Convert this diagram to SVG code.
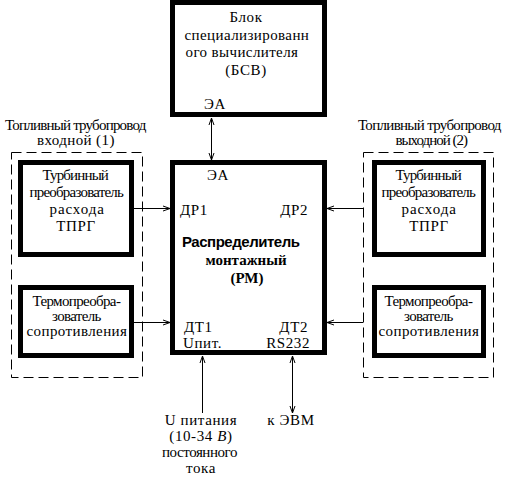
<svg xmlns="http://www.w3.org/2000/svg" width="505" height="483" viewBox="0 0 505 483">
<style>
.box{fill:#fff;stroke:#000;stroke-width:5}
.dash{fill:none;stroke:#000;stroke-width:1;stroke-dasharray:10 5}
.t{font-family:'Liberation Serif','Times New Roman',serif;font-size:15px;fill:#000;letter-spacing:0.6px}
.c{text-anchor:middle}
.e{text-anchor:end}
.b{font-weight:bold;letter-spacing:0}
.sans{font-family:'Liberation Sans',Arial,sans-serif}
.ln{stroke:#000;stroke-width:1;fill:none}
</style>
<defs>
<marker id="ah" viewBox="0 0 8 8" refX="8" refY="4" markerWidth="8" markerHeight="8" orient="auto-start-reverse" markerUnits="userSpaceOnUse">
<path d="M1,1.5 L8,4 L1,6.5" fill="none" stroke="#000" stroke-width="1"/>
</marker>
</defs>
<rect width="505" height="483" fill="#fff"/>
<g id="pipe-in">
<rect class="dash" x="11.5" y="152.5" width="131" height="225"/>
<text class="t c" x="76" y="130" textLength="142" lengthAdjust="spacing">Топливный трубопровод</text>
<text class="t c" x="76" y="145" textLength="78" lengthAdjust="spacing">входной (1)</text>
</g>
<g id="pipe-out">
<rect class="dash" x="363.5" y="152.5" width="130" height="225"/>
<text class="t c" x="430" y="130" textLength="144" lengthAdjust="spacing">Топливный трубопровод</text>
<text class="t c" x="432" y="145" textLength="73" lengthAdjust="spacing">выходной (2)</text>
</g>
<g id="bsv">
<rect class="box" x="172.5" y="2.5" width="152" height="112"/>
<text class="t c" x="246" y="22">Блок</text>
<text class="t c" x="247" y="40" textLength="125" lengthAdjust="spacing">специализированн</text>
<text class="t c" x="242" y="57" textLength="113" lengthAdjust="spacing">ого вычислителя</text>
<text class="t c" x="246" y="75">(БСВ)</text>
<text class="t" x="204" y="109">ЭА</text>
</g>
<g id="rm">
<rect class="box" x="172.5" y="162.5" width="152" height="190"/>
<text class="t" x="207" y="180">ЭА</text>
<text class="t" x="180" y="215">ДР1</text>
<text class="t e" x="308" y="215">ДР2</text>
<text class="t c b sans" x="241" y="247" textLength="118" lengthAdjust="spacing">Распределитель</text>
<text class="t c b" x="246" y="265">монтажный</text>
<text class="t c b" x="247" y="283">(РМ)</text>
<text class="t" x="184" y="332">ДТ1</text>
<text class="t e" x="308" y="332">ДТ2</text>
<text class="t" x="183" y="348">Uпит.</text>
<text class="t e" x="310" y="348">RS232</text>
</g>
<g id="tprg-1">
<rect class="box" x="20.5" y="162.5" width="111" height="92"/>
<text class="t c" x="76" y="180" textLength="67" lengthAdjust="spacing">Турбинный</text>
<text class="t c" x="77" y="197" textLength="95" lengthAdjust="spacing">преобразователь</text>
<text class="t c" x="77" y="214" textLength="55" lengthAdjust="spacing">расхода</text>
<text class="t c" x="76" y="231">ТПРГ</text>
</g>
<g id="tsr-1">
<rect class="box" x="20.5" y="287.5" width="111" height="68"/>
<text class="t c" x="77" y="306" textLength="89" lengthAdjust="spacing">Термопреобра-</text>
<text class="t c" x="77" y="321" textLength="50" lengthAdjust="spacing">зователь</text>
<text class="t c" x="77" y="336" textLength="101" lengthAdjust="spacing">сопротивления</text>
</g>
<g id="tprg-2">
<rect class="box" x="374.5" y="162.5" width="109" height="92"/>
<text class="t c" x="429" y="180" textLength="67" lengthAdjust="spacing">Турбинный</text>
<text class="t c" x="429" y="197" textLength="95" lengthAdjust="spacing">преобразователь</text>
<text class="t c" x="429" y="214" textLength="55" lengthAdjust="spacing">расхода</text>
<text class="t c" x="429" y="231">ТПРГ</text>
</g>
<g id="tsr-2">
<rect class="box" x="374.5" y="287.5" width="109" height="68"/>
<text class="t c" x="429" y="306" textLength="89" lengthAdjust="spacing">Термопреобра-</text>
<text class="t c" x="429" y="321" textLength="50" lengthAdjust="spacing">зователь</text>
<text class="t c" x="429" y="336" textLength="101" lengthAdjust="spacing">сопротивления</text>
</g>
<g id="power">
<text class="t c" x="201" y="425">U питания</text>
<text class="t c" x="201" y="441">(10-34 <tspan font-style="italic">В</tspan>)</text>
<text class="t c" x="200" y="457" textLength="76" lengthAdjust="spacing">постоянного</text>
<text class="t c" x="201" y="473">тока</text>
</g>
<g id="evm">
<text class="t c" x="291" y="425">к ЭВМ</text>
</g>
<g id="connectors">
<line class="ln" x1="211.5" y1="118" x2="211.5" y2="160" marker-start="url(#ah)" marker-end="url(#ah)"/>
<line class="ln" x1="134" y1="208.5" x2="170" y2="208.5" marker-end="url(#ah)"/>
<line class="ln" x1="134" y1="322.5" x2="170" y2="322.5" marker-end="url(#ah)"/>
<line class="ln" x1="363" y1="208.5" x2="327" y2="208.5" marker-end="url(#ah)"/>
<line class="ln" x1="363" y1="322.5" x2="327" y2="322.5" marker-end="url(#ah)"/>
<line class="ln" x1="202.5" y1="413" x2="202.5" y2="356" marker-end="url(#ah)"/>
<line class="ln" x1="292.5" y1="413" x2="292.5" y2="356" marker-start="url(#ah)" marker-end="url(#ah)"/>
</g>
</svg>
